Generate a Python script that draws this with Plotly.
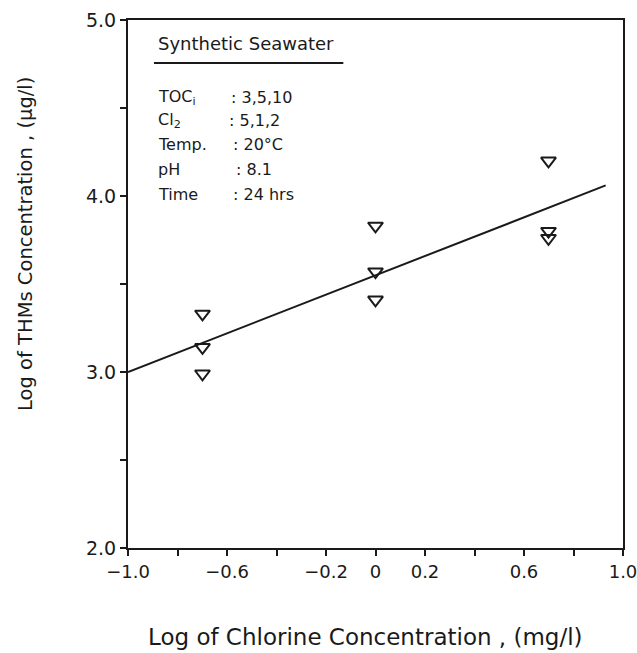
import plotly.graph_objects as go

# data
chlorine_log = [-0.699, -0.699, -0.699, 0.0, 0.0, 0.0, 0.699, 0.699, 0.699]
thm_log = [3.33, 3.14, 2.99, 3.83, 3.57, 3.41, 4.20, 3.80, 3.76]
line_x = [-1.0, 0.93]
line_y = [3.0, 4.06]

x_tickvals = [-1.0, -0.6, -0.2, 0.0, 0.2, 0.6, 1.0]
x_ticktext = ["\u22121.0", "\u22120.6", "\u22120.2", "0", "0.2", "0.6", "1.0"]
y_tickvals = [2.0, 3.0, 4.0, 5.0]
y_ticktext = ["2.0", "3.0", "4.0", "5.0"]

info_labels = ["TOC<sub>i</sub>", "Cl<sub>2</sub>", "Temp.", "pH", "Time"]
info_values = [": 3,5,10", ": 5,1,2", ": 20\u00b0C", ": 8.1", ": 24 hrs"]

FONT = "DejaVu Sans, Verdana, sans-serif"
INK = "#1a1a1a"

fig = go.Figure()
fig.add_trace(go.Scatter(
    x=line_x, y=line_y, mode="lines",
    line=dict(color=INK, width=2), showlegend=False, hoverinfo="skip"))
fig.add_trace(go.Scatter(
    x=chlorine_log, y=thm_log, mode="markers",
    marker=dict(symbol="triangle-down-open", size=13, color=INK,
                line=dict(width=2, color=INK)),
    showlegend=False))

# info box text
fig.add_annotation(x=-0.885, y=4.865, xref="x", yref="y", text="Synthetic Seawater",
                   showarrow=False, xanchor="left", yanchor="middle",
                   font=dict(family=FONT, size=18, color=INK))
fig.add_shape(type="line", x0=-0.895, x1=-0.13, y0=4.755, y1=4.755,
              xref="x", yref="y", line=dict(color=INK, width=2))
label_y = [4.56, 4.43, 4.29, 4.15, 4.01]
value_x = [-0.59, -0.60, -0.585, -0.57, -0.585]
for lab, val, yy, vx in zip(info_labels, info_values, label_y, value_x):
    fig.add_annotation(x=-0.885, y=yy, xref="x", yref="y", text=lab,
                       showarrow=False, xanchor="left", yanchor="middle",
                       font=dict(family=FONT, size=16, color=INK))
    fig.add_annotation(x=vx, y=yy, xref="x", yref="y", text=val,
                       showarrow=False, xanchor="left", yanchor="middle",
                       font=dict(family=FONT, size=16, color=INK))

# axis titles
fig.add_annotation(x=0.48, y=-0.169, xref="paper", yref="paper",
                   text="Log of Chlorine Concentration , (mg/l)",
                   showarrow=False, xanchor="center", yanchor="middle",
                   font=dict(family=FONT, size=23, color=INK))
fig.add_annotation(x=-0.207, y=0.575, xref="paper", yref="paper",
                   text="Log of THMs Concentration , (\u00b5g/l)", textangle=-90,
                   showarrow=False, xanchor="center", yanchor="middle",
                   font=dict(family=FONT, size=19.5, color=INK))

fig.update_xaxes(
    range=[-1.0, 1.0], tickmode="array", tickvals=x_tickvals, ticktext=x_ticktext,
    ticks="outside", ticklen=6, tickwidth=1.5, tickcolor=INK,
    minor=dict(tick0=0, dtick=0.2, ticks="outside", ticklen=6, tickwidth=1.5,
               tickcolor=INK, showgrid=False),
    showline=True, linecolor=INK, linewidth=2, mirror=True,
    showgrid=False, zeroline=False, automargin=False, ticklabeloverflow="allow",
    tickfont=dict(family=FONT, size=18, color=INK))
fig.update_yaxes(
    range=[2.0, 5.0], tickmode="array", tickvals=y_tickvals, ticktext=y_ticktext,
    ticks="outside", ticklen=6, tickwidth=1.5, tickcolor=INK,
    minor=dict(tick0=0, dtick=0.5, ticks="outside", ticklen=6, tickwidth=1.5,
               tickcolor=INK, showgrid=False),
    showline=True, linecolor=INK, linewidth=2, mirror=True,
    showgrid=False, zeroline=False, automargin=False,
    tickfont=dict(family=FONT, size=19, color=INK))

fig.update_layout(
    width=637, height=653,
    margin=dict(l=128, r=14, t=20, b=105),
    plot_bgcolor="white", paper_bgcolor="white",
    font=dict(family=FONT, color=INK),
)

fig.write_html("out.html", config={"displayModeBar": False},
               post_script="document.body.style.margin='0';document.body.style.overflow='hidden';")
